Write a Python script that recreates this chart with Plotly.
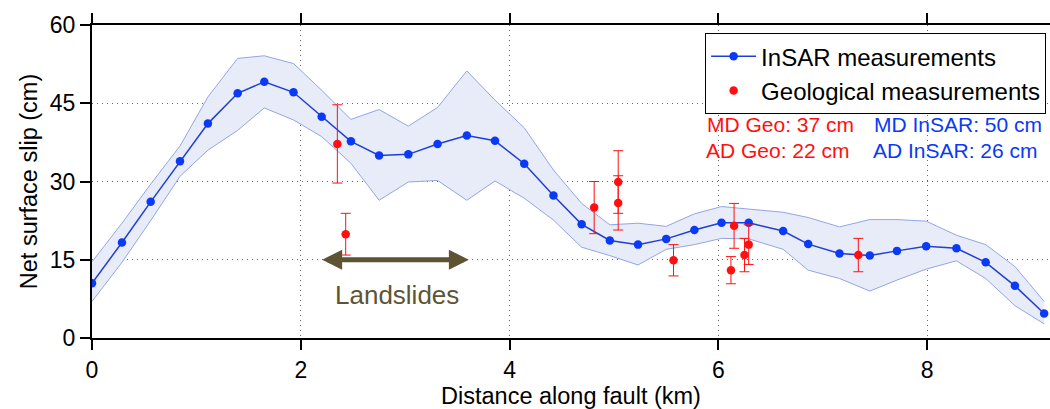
import plotly.graph_objects as go

# InSAR slip profile along the fault
insar_km = [0.0, 0.287, 0.562, 0.843, 1.11, 1.395, 1.65, 1.93, 2.20, 2.48,
            2.75, 3.03, 3.31, 3.59, 3.86, 4.14, 4.42, 4.69, 4.96, 5.23,
            5.50, 5.77, 6.03, 6.29, 6.62, 6.86, 7.16, 7.45, 7.71, 7.99,
            8.28, 8.56, 8.84, 9.12]
insar_slip = [10.5, 18.3, 26.1, 33.9, 41.1, 46.9, 49.1, 47.1, 42.4, 37.7,
              35.0, 35.2, 37.2, 38.8, 37.8, 33.4, 27.3, 21.8, 18.7, 17.9,
              19.0, 20.7, 22.1, 22.1, 20.5, 18.0, 16.2, 15.8, 16.7, 17.6,
              17.2, 14.5, 10.0, 4.7]
insar_upper = [14.6, 22.0, 29.5, 36.8, 46.2, 53.6, 54.1, 52.6, 47.5, 41.9,
               43.8, 40.6, 44.2, 51.2, 45.6, 40.3, 32.2, 25.8, 21.7, 22.0,
               21.4, 23.8, 25.2, 24.7, 24.1, 23.1, 21.3, 22.7, 22.7, 22.4,
               19.7, 17.9, 13.7, 7.0]
insar_lower = [7.0, 14.5, 22.5, 31.0, 36.0, 39.8, 44.1, 41.8, 38.6, 33.5,
               26.4, 29.9, 30.2, 26.4, 30.1, 26.8, 22.6, 17.4, 15.8, 14.0,
               17.0, 17.9, 19.1, 19.0, 17.0, 13.0, 11.4, 9.0, 11.1, 13.2,
               14.8, 11.4, 6.2, 2.7]

# Field (geological) measurements with uncertainties
geo_km = [2.35, 2.43, 4.81, 5.04, 5.04, 5.57, 6.15, 6.12, 6.25, 6.29, 7.34]
geo_slip = [37.2, 19.9, 25.0, 29.9, 25.9, 14.9, 21.5, 13.0, 15.9, 17.9, 15.9]
geo_err = [7.5, 4.0, 5.0, 6.0, 5.2, 3.0, 4.3, 2.6, 3.2, 3.8, 3.2]

y_ticks = [0, 15, 30, 45, 60]
x_ticks = [0, 2, 4, 6, 8]

FONT = "Liberation Sans, Arial, Helvetica, sans-serif"
BLUE = "#0a3af5"
BAND_EDGE = "#93a6e3"
BAND_FILL = "#e8ebf8"
RED = "#ff1010"
OLIVE = "#5e5434"
GRID = "#666666"

fig = go.Figure()

# uncertainty envelope
fig.add_trace(go.Scatter(x=insar_km, y=insar_upper, mode="lines",
                         line=dict(color=BAND_EDGE, width=1),
                         showlegend=False, hoverinfo="skip"))
fig.add_trace(go.Scatter(x=insar_km, y=insar_lower, mode="lines",
                         line=dict(color=BAND_EDGE, width=1),
                         fill="tonexty", fillcolor=BAND_FILL,
                         showlegend=False, hoverinfo="skip"))

fig.add_trace(go.Scatter(x=insar_km, y=insar_slip, mode="lines+markers",
                         name="InSAR measurements",
                         line=dict(color="#1f3fd6", width=1.5),
                         marker=dict(color=BLUE, size=8.5)))

fig.add_trace(go.Scatter(x=geo_km, y=geo_slip, mode="markers",
                         name="Geological measurements",
                         marker=dict(color=RED, size=8.5),
                         error_y=dict(type="data", array=geo_err, visible=True,
                                      color=RED, thickness=1, width=5)))

# landslide extent
fig.add_annotation(x=3.61, y=15, ax=2.19, ay=15, xref="x", yref="y",
                   axref="x", ayref="y", text="", showarrow=True,
                   arrowside="end+start", arrowhead=2, arrowsize=0.8,
                   arrowwidth=5, arrowcolor=OLIVE, standoff=0, startstandoff=0)
fig.add_annotation(x=2.92, y=8.3, text="Landslides", showarrow=False,
                   font=dict(family=FONT, size=26, color=OLIVE))

# summary statistics
stats = [
    (6.59, 41.0, "MD Geo: 37 cm", RED),
    (6.57, 36.0, "AD Geo: 22 cm", RED),
    (8.29, 41.0, "MD InSAR: 50 cm", BLUE),
    (8.27, 36.0, "AD InSAR: 26 cm", BLUE),
]
for sx, sy, txt, col in stats:
    fig.add_annotation(x=sx, y=sy, text=txt, showarrow=False,
                       font=dict(family=FONT, size=21, color=col))

fig.update_layout(
    width=1050, height=409,
    margin=dict(l=92, r=0, t=25, b=71),
    paper_bgcolor="white", plot_bgcolor="white",
    font=dict(family=FONT, color="black"),
    showlegend=True,
    legend=dict(x=0.64, y=0.974, xanchor="left", yanchor="top",
                bgcolor="white", bordercolor="black", borderwidth=1,
                font=dict(family=FONT, size=24), itemwidth=45,
                traceorder="normal", tracegroupgap=0),
)

fig.update_xaxes(
    range=[0, 9.176], tickvals=x_ticks, ticktext=[str(v) for v in x_ticks],
    showline=True, linecolor="black", linewidth=2, mirror="ticks",
    ticks="outside", ticklen=10, tickwidth=2, tickcolor="black",
    showgrid=True, gridcolor=GRID, gridwidth=1, griddash="1px,4px",
    zeroline=False, tickfont=dict(family=FONT, size=23),
    title=dict(text="Distance along fault (km)",
               font=dict(family=FONT, size=23.5), standoff=2),
)
fig.update_yaxes(
    range=[0, 60], tickvals=y_ticks, ticktext=[str(v) for v in y_ticks],
    showline=True, linecolor="black", linewidth=2, mirror=False,
    ticks="outside", ticklen=10, tickwidth=2, tickcolor="black",
    showgrid=True, gridcolor=GRID, gridwidth=1, griddash="1px,4px",
    zeroline=False, tickfont=dict(family=FONT, size=23),
    title=dict(text="Net surface slip (cm)",
               font=dict(family=FONT, size=23.5), standoff=6),
)

fig.write_html("out.html")
